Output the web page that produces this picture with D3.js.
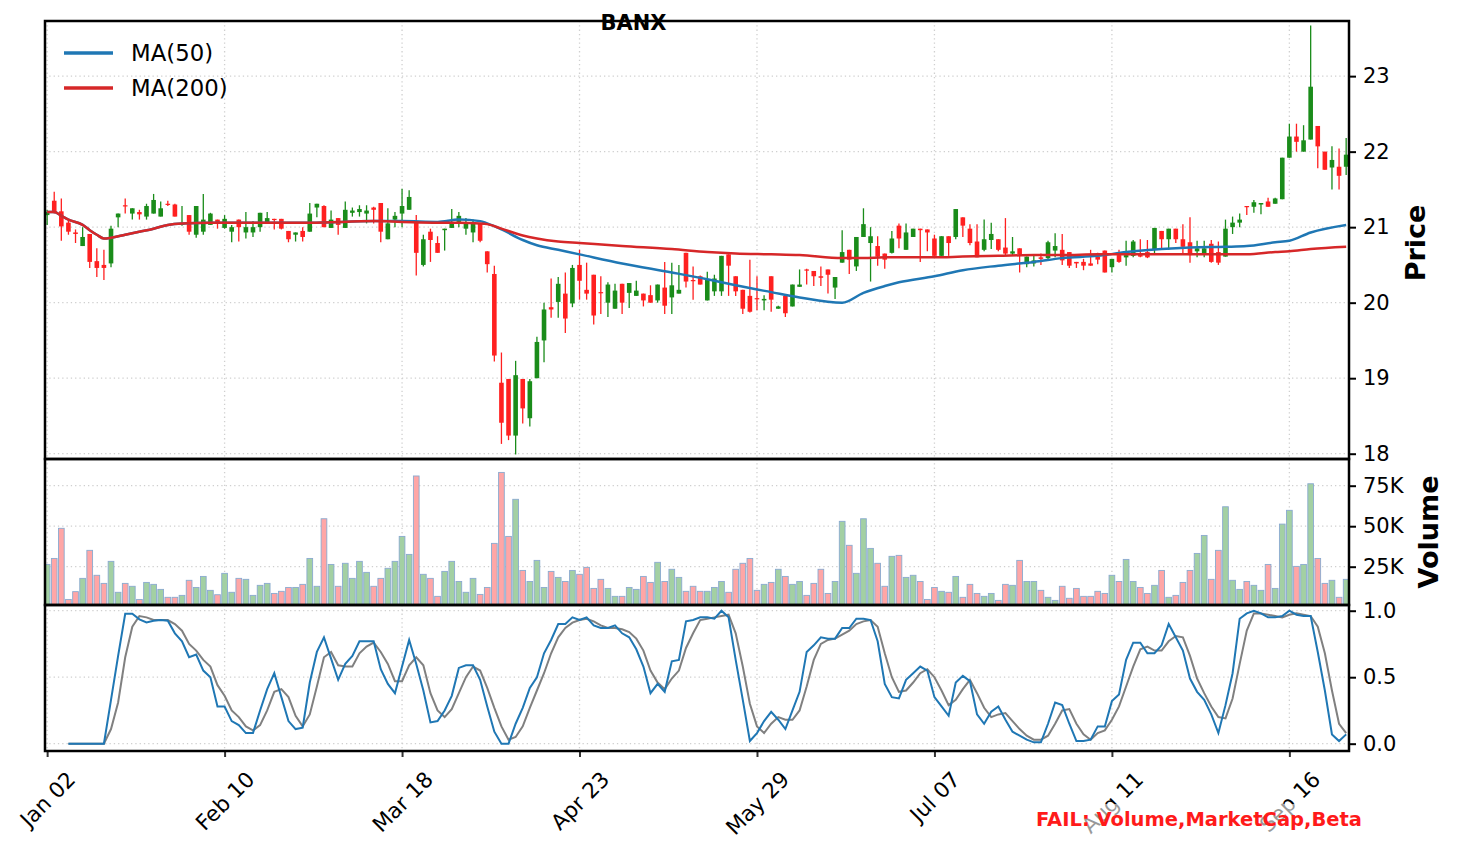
<!DOCTYPE html>
<html>
<head>
<meta charset="utf-8">
<script src="https://cdn.jsdelivr.net/npm/d3@7"></script>
<style>
body { margin: 0; background: #fff; }
text { font-family: "DejaVu Sans", sans-serif; }
</style>
</head>
<body>
<script>
var title = "BANX";

var opens = [21.16,21.35,21.21,21.06,20.93,20.75,20.91,20.55,20.50,20.52,
  21.13,21.29,21.18,21.20,21.14,21.18,21.14,21.31,21.30,21.03,
  21.16,20.90,20.94,21.03,21.10,20.99,20.94,21.10,20.93,20.93,
  21.00,21.05,21.11,21.11,20.95,20.90,20.95,20.94,21.26,21.28,
  20.99,21.12,20.99,21.19,21.20,21.18,21.26,21.32,20.84,21.10,
  21.18,21.23,21.08,20.50,20.94,20.79,20.96,20.99,21.07,20.98,
  20.93,21.05,20.68,20.38,18.94,18.99,18.24,18.99,18.47,19.00,
  19.50,19.94,20.01,20.12,19.99,20.50,20.17,20.37,20.14,20.00,
  19.92,20.25,20.13,20.09,20.12,20.10,20.03,20.20,20.07,20.12,
  20.66,20.30,20.35,20.03,20.15,20.15,20.64,20.35,20.17,20.09,
  20.06,20.03,20.35,19.92,20.09,19.95,20.21,20.44,20.42,20.35,
  20.44,20.20,20.53,20.70,20.48,20.87,20.79,20.75,20.65,20.66,
  21.02,20.70,20.87,20.98,20.97,20.85,20.62,20.88,20.87,21.13,
  20.98,20.81,20.70,20.83,20.84,20.73,20.65,20.72,20.51,20.52,
  20.60,20.59,20.69,20.70,20.67,20.54,20.54,20.52,20.61,20.69,
  20.47,20.63,20.60,20.62,20.63,20.67,20.70,20.95,20.84,20.98,
  20.84,20.80,20.68,20.65,20.78,20.67,20.61,21.00,21.06,21.28,
  21.27,21.30,21.34,21.31,21.37,21.92,22.20,22.00,22.16,22.34,
  22.00,21.79,21.80,21.80];

var highs = [21.23,21.47,21.38,21.09,20.97,21.00,20.91,20.72,20.70,21.02,
  21.18,21.38,21.25,21.23,21.31,21.44,21.34,21.35,21.31,21.28,
  21.16,21.28,21.44,21.19,21.10,21.16,21.03,21.10,21.20,21.08,
  21.19,21.20,21.11,21.11,20.95,20.93,21.00,21.32,21.31,21.29,
  21.22,21.12,21.34,21.26,21.29,21.29,21.27,21.32,21.25,21.20,
  21.51,21.49,21.16,20.90,20.98,20.88,20.98,21.24,21.20,21.12,
  21.10,21.05,20.68,20.49,19.34,18.99,19.23,18.99,18.99,19.55,
  20.00,20.32,20.34,20.40,20.50,20.70,20.53,20.37,20.35,20.27,
  20.25,20.25,20.26,20.29,20.12,20.23,20.24,20.54,20.53,20.50,
  20.66,20.48,20.36,20.41,20.37,20.62,20.64,20.35,20.17,20.57,
  20.35,20.10,20.35,19.96,20.09,20.24,20.44,20.45,20.42,20.48,
  20.44,20.34,20.96,20.70,20.87,21.25,21.00,20.88,20.65,20.95,
  21.05,21.05,20.98,20.98,20.97,20.90,20.88,20.88,21.24,21.13,
  21.04,21.04,21.10,21.06,20.84,21.12,20.87,20.72,20.61,20.63,
  20.65,20.82,20.92,20.91,20.67,20.54,20.58,20.70,20.66,20.69,
  20.58,20.70,20.82,20.83,20.84,20.83,20.99,20.95,20.98,20.98,
  21.04,21.13,20.82,20.82,20.83,20.81,21.10,21.14,21.18,21.28,
  21.36,21.32,21.39,21.39,21.92,22.37,22.37,22.35,23.67,22.34,
  22.00,22.07,22.04,22.18];

var lows = [21.03,21.18,20.82,20.90,20.79,20.75,20.46,20.34,20.30,20.47,
  21.00,21.18,21.10,21.10,21.10,21.18,21.14,21.28,21.14,21.02,
  20.90,20.86,20.90,21.03,20.98,20.98,20.80,20.81,20.85,20.87,
  20.94,21.05,20.97,20.97,20.80,20.81,20.81,20.94,21.13,21.00,
  20.99,20.90,20.99,21.14,21.14,21.05,21.05,20.80,20.84,21.00,
  21.00,21.23,20.36,20.48,20.54,20.66,20.69,20.99,21.00,20.90,
  20.80,20.80,20.40,19.22,18.13,18.18,17.99,18.40,18.36,19.00,
  19.21,19.80,19.80,19.60,19.94,20.04,20.04,19.71,19.85,19.81,
  19.92,19.85,19.93,20.09,19.95,20.00,20.00,19.85,19.85,20.12,
  20.20,20.04,20.24,20.03,20.09,20.09,20.09,20.09,19.85,19.87,
  19.90,19.90,19.88,19.92,19.81,19.95,20.21,20.24,20.22,20.22,
  20.12,20.05,20.53,20.38,20.42,20.87,20.28,20.49,20.45,20.65,
  20.72,20.70,20.87,20.54,20.68,20.62,20.62,20.62,20.84,20.87,
  20.76,20.60,20.68,20.71,20.68,20.63,20.63,20.40,20.47,20.48,
  20.50,20.58,20.60,20.50,20.46,20.46,20.43,20.49,20.51,20.40,
  20.40,20.53,20.49,20.60,20.60,20.59,20.65,20.70,20.70,20.79,
  20.63,20.53,20.60,20.60,20.53,20.50,20.61,20.91,21.00,21.16,
  21.19,21.17,21.27,21.31,21.37,21.92,22.00,22.00,22.16,21.78,
  21.76,21.50,21.50,21.69];

var closes = [21.20,21.20,21.01,20.94,20.91,20.87,20.54,20.46,20.46,20.98,
  21.18,21.28,21.25,21.17,21.28,21.36,21.25,21.30,21.14,21.05,
  20.94,21.28,21.10,21.18,21.05,21.11,21.00,21.00,21.00,21.00,
  21.19,21.12,21.10,20.98,20.84,20.93,20.87,21.18,21.31,21.00,
  21.10,21.03,21.23,21.22,21.24,21.22,21.23,20.94,21.05,21.15,
  21.28,21.40,20.66,20.84,20.83,20.66,20.98,21.05,21.15,21.05,
  21.05,20.82,20.51,19.30,18.41,18.24,19.04,18.60,18.96,19.48,
  19.91,19.91,20.25,19.79,20.46,20.29,20.12,19.83,20.13,20.24,
  20.16,20.00,20.26,20.16,20.03,20.00,20.24,19.96,20.23,20.17,
  20.28,20.29,20.24,20.31,20.32,20.62,20.49,20.15,19.92,19.88,
  20.05,20.05,20.04,19.95,19.86,20.24,20.24,20.43,20.35,20.33,
  20.37,20.34,20.67,20.57,20.87,21.04,20.88,20.61,20.57,20.85,
  20.85,20.93,20.98,20.96,20.93,20.62,20.88,20.79,21.24,21.02,
  20.79,20.60,20.84,20.91,20.70,20.65,20.68,20.64,20.61,20.56,
  20.58,20.80,20.75,20.56,20.49,20.52,20.49,20.49,20.57,20.40,
  20.58,20.54,20.63,20.81,20.61,20.60,20.99,20.84,20.98,20.84,
  20.74,20.63,20.72,20.72,20.54,20.53,20.98,21.06,21.10,21.27,
  21.33,21.32,21.27,21.38,21.92,22.20,22.13,22.15,22.86,22.07,
  21.76,21.89,21.68,21.96];

var volumes = [26400,30100,48700,4800,9600,17800,35100,19700,14700,28300,
  9200,14700,12900,4800,15300,14100,11000,6100,6100,7300,
  16600,12200,19000,10400,7700,20900,9200,17800,17200,7300,
  13500,14700,8500,9800,12200,12200,14100,30100,12900,54600,
  26400,12900,27100,17800,28300,21500,12900,17800,24000,28300,
  43700,32600,81000,20300,17800,6700,22100,28300,15900,9200,
  17800,7900,12200,39400,83200,43700,66600,22700,15900,28900,
  12200,22100,18400,15900,22700,20300,24600,11600,17200,11600,
  6700,6700,12200,11000,19000,15300,27700,15900,23400,18400,
  9800,12900,9800,9800,12200,15900,9200,23400,27100,30100,
  10400,14100,15300,23400,19000,14100,15900,7300,14700,23400,
  8500,15900,53000,38200,20900,54600,36300,27100,12900,31400,
  32000,18400,19700,15900,4800,12200,9800,9200,19000,6100,
  14100,8500,6700,8500,4200,14100,13500,28900,15900,15900,
  10400,6100,4200,12900,5500,11600,6700,6700,9800,8500,
  19700,15900,29500,15900,12200,8500,13500,22700,6100,7300,
  15300,22700,33200,44300,17200,35100,62000,16600,11000,15900,
  13500,10400,26400,11600,51300,59800,25200,26400,76200,30100,
  14700,16600,6100,17200];

var stochK = [null,null,null,0,0,0,0,0,0,0.33,
  0.66,0.977,0.977,0.935,0.912,0.925,0.93,0.925,0.83,0.77,
  0.65,0.67,0.55,0.5,0.28,0.28,0.17,0.14,0.08,0.08,
  0.25,0.41,0.53,0.35,0.17,0.11,0.12,0.46,0.69,0.8,
  0.64,0.48,0.6,0.66,0.77,0.77,0.77,0.56,0.45,0.38,
  0.58,0.78,0.6,0.4,0.16,0.17,0.25,0.36,0.57,0.59,
  0.59,0.48,0.28,0.09,0,0,0.15,0.27,0.42,0.5,
  0.68,0.78,0.9,0.9,0.95,0.93,0.95,0.89,0.87,0.87,
  0.89,0.83,0.8,0.71,0.58,0.38,0.45,0.39,0.62,0.63,
  0.92,0.93,0.95,0.95,0.94,1.0,0.95,0.63,0.33,0.02,
  0.08,0.17,0.24,0.18,0.11,0.25,0.39,0.69,0.74,0.8,
  0.79,0.79,0.87,0.87,0.94,0.94,0.93,0.77,0.45,0.35,
  0.34,0.48,0.53,0.58,0.55,0.35,0.28,0.21,0.46,0.51,
  0.47,0.22,0.15,0.24,0.28,0.18,0.09,0.06,0.03,0.01,
  0.01,0.15,0.31,0.29,0.15,0.02,0.02,0.03,0.13,0.13,
  0.32,0.37,0.63,0.76,0.76,0.68,0.68,0.74,0.9,0.8,
  0.7,0.49,0.39,0.33,0.22,0.08,0.29,0.53,0.94,0.98,
  1.0,0.98,0.95,0.95,0.96,1.0,0.97,0.96,0.96,0.69,
  0.4,0.07,0.02,0.07];

var stochD = [null,null,null,0,0,0,0,0,0,0.11,
  0.31,0.65,0.88,0.96,0.95,0.93,0.93,0.93,0.9,0.85,
  0.75,0.7,0.63,0.58,0.44,0.36,0.25,0.2,0.13,0.1,
  0.14,0.25,0.39,0.41,0.35,0.21,0.13,0.22,0.43,0.65,
  0.69,0.59,0.58,0.58,0.68,0.73,0.76,0.69,0.6,0.47,
  0.47,0.59,0.65,0.59,0.38,0.25,0.2,0.26,0.38,0.5,
  0.58,0.55,0.42,0.27,0.13,0.03,0.05,0.13,0.27,0.4,
  0.53,0.68,0.8,0.87,0.91,0.93,0.94,0.92,0.89,0.87,
  0.87,0.86,0.84,0.79,0.7,0.55,0.46,0.41,0.49,0.55,
  0.72,0.83,0.93,0.94,0.95,0.96,0.97,0.83,0.58,0.3,
  0.13,0.08,0.15,0.2,0.18,0.18,0.25,0.43,0.63,0.75,
  0.78,0.79,0.82,0.85,0.9,0.92,0.93,0.88,0.68,0.5,
  0.39,0.4,0.46,0.53,0.56,0.5,0.4,0.29,0.33,0.41,
  0.48,0.38,0.27,0.2,0.22,0.23,0.17,0.11,0.06,0.03,
  0.03,0.06,0.15,0.25,0.26,0.15,0.07,0.03,0.08,0.1,
  0.18,0.28,0.43,0.58,0.71,0.73,0.7,0.7,0.77,0.81,
  0.8,0.66,0.49,0.38,0.28,0.2,0.19,0.34,0.6,0.85,
  0.98,0.98,0.97,0.96,0.95,0.97,0.98,0.97,0.96,0.88,
  0.68,0.4,0.15,0.08];

var maIdx = [0,1,2,3,5,6,7,8,9,11,13,15,17,19,23,27,37,46,50,55,
  58,61,62,64,67,69,72,75,81,88,93,97,102,106,112,115,118,120,125,129,
  134,139,143,148,152,157,161,166,169,173,175,178,183];
var ma50 = [21.2,21.2,21.15,21.1,21.03,20.96,20.9,20.85,20.86,20.9,20.94,20.98,21.03,21.05,21.06,21.06,21.06,21.08,21.08,21.07,
  21.1,21.08,21.05,20.97,20.83,20.76,20.7,20.64,20.52,20.4,20.31,20.23,20.14,20.07,20.0,20.13,20.22,20.27,20.35,20.43,
  20.49,20.54,20.59,20.62,20.67,20.71,20.73,20.74,20.75,20.8,20.82,20.93,21.03];
var ma200 = [21.2,21.2,21.15,21.1,21.03,20.96,20.9,20.85,20.86,20.9,20.94,20.98,21.03,21.05,21.06,21.06,21.06,21.08,21.07,21.06,
  21.06,21.05,21.04,20.98,20.89,20.85,20.81,20.79,20.75,20.71,20.67,20.65,20.64,20.63,20.59,20.59,20.6,20.6,20.6,20.61,
  20.62,20.63,20.63,20.64,20.64,20.64,20.64,20.64,20.64,20.67,20.68,20.71,20.74];

var tickIdx = [0,25,50,75,100,125,150,175];
var tickLabels = ["Jan 02","Feb 10","Mar 18","Apr 23","May 29","Jul 07","Aug 11","Sep 16"];
var priceTicks = [18,19,20,21,22,23];
var volTicks = [25000,50000,75000];
var stochTicks = [0,0.5,1.0];
var failText = "FAIL: Volume,MarketCap,Beta";

var svg = d3.select("body").append("svg")
    .attr("width", 1457)
    .attr("height", 855);

var left = 45, right = 1349;
var x = d3.scaleLinear().domain([-0.3, 183.4]).range([left, right]);
var yPrice = d3.scaleLinear().domain([17.93, 23.73]).range([459, 21]);
var yVol = d3.scaleLinear().domain([0, 75000]).range([607.2, 485.7]);
var yStoch = d3.scaleLinear().domain([-0.055, 1.043]).range([751, 605]);

var panels = [
    {name: "p", top: 21, bottom: 459, y: yPrice, ticks: priceTicks, fmt: function(d) { return d; }},
    {name: "v", top: 459, bottom: 605, y: yVol, ticks: volTicks, fmt: function(d) { return (d / 1000) + "K"; }},
    {name: "s", top: 605, bottom: 751, y: yStoch, ticks: stochTicks, fmt: d3.format(".1f")}
];

var defs = svg.append("defs");
panels.forEach(function(p) {
    defs.append("clipPath").attr("id", "clip-" + p.name)
        .append("rect")
        .attr("x", left).attr("y", p.top)
        .attr("width", right - left).attr("height", p.bottom - p.top);
});

// grid
panels.forEach(function(p) {
    var g = svg.append("g").attr("class", "grid");
    g.selectAll("line.v").data(tickIdx).enter().append("line")
        .attr("x1", function(d) { return x(d); })
        .attr("x2", function(d) { return x(d); })
        .attr("y1", p.top).attr("y2", p.bottom);
    g.selectAll("line.h").data(p.ticks).enter().append("line")
        .attr("x1", left).attr("x2", right)
        .attr("y1", function(d) { return p.y(d); })
        .attr("y2", function(d) { return p.y(d); });
    g.selectAll("line")
        .attr("stroke", "#cfcfcf")
        .attr("stroke-width", 1.3)
        .attr("stroke-dasharray", "1.3,3");
});

var idx = d3.range(opens.length);
var isUp = function(i) { return closes[i] >= opens[i]; };
var candleUp = "#1a8c1a", candleDown = "#ff2020";

// candles
var cg = svg.append("g").attr("clip-path", "url(#clip-p)");
cg.selectAll("line.wick").data(idx).enter().append("line")
    .attr("x1", function(i) { return x(i); })
    .attr("x2", function(i) { return x(i); })
    .attr("y1", function(i) { return yPrice(highs[i]); })
    .attr("y2", function(i) { return yPrice(lows[i]); })
    .attr("stroke", function(i) { return isUp(i) ? candleUp : candleDown; })
    .attr("stroke-width", 1.3);
cg.selectAll("rect.body").data(idx).enter().append("rect")
    .attr("x", function(i) { return x(i) - 2.3; })
    .attr("width", 4.6)
    .attr("y", function(i) { return yPrice(Math.max(opens[i], closes[i])); })
    .attr("height", function(i) {
        return Math.max(1.2, Math.abs(yPrice(opens[i]) - yPrice(closes[i])));
    })
    .attr("fill", function(i) { return isUp(i) ? candleUp : candleDown; });

// moving averages
var maLine = function(vals) {
    return d3.line()
        .x(function(d, k) { return x(maIdx[k]); })
        .y(function(d) { return yPrice(d); })
        .curve(d3.curveMonotoneX)(vals);
};
cg.append("path").attr("d", maLine(ma50))
    .attr("fill", "none").attr("stroke", "#1f77b4").attr("stroke-width", 2.5);
cg.append("path").attr("d", maLine(ma200))
    .attr("fill", "none").attr("stroke", "#d62728").attr("stroke-width", 2.5);

// legend
var legend = [{label: "MA(50)", color: "#1f77b4", y: 53}, {label: "MA(200)", color: "#d62728", y: 88}];
var lg = svg.append("g");
lg.selectAll("line").data(legend).enter().append("line")
    .attr("x1", 64).attr("x2", 113)
    .attr("y1", function(d) { return d.y; })
    .attr("y2", function(d) { return d.y; })
    .attr("stroke", function(d) { return d.color; })
    .attr("stroke-width", 3.3);
lg.selectAll("text").data(legend).enter().append("text")
    .attr("x", 131)
    .attr("y", function(d) { return d.y + 8; })
    .attr("font-size", "22.8px")
    .text(function(d) { return d.label; });

// volume
svg.append("g").attr("clip-path", "url(#clip-v)")
    .selectAll("rect").data(idx).enter().append("rect")
    .attr("x", function(i) { return x(i) - 2.85; })
    .attr("width", 5.7)
    .attr("y", function(i) { return yVol(volumes[i]); })
    .attr("height", function(i) { return yVol(0) - yVol(volumes[i]); })
    .attr("fill", function(i) { return isUp(i) ? "#a3d0a3" : "#ffa6a6"; })
    .attr("stroke", "#8aaad0")
    .attr("stroke-width", 0.9);

// stochastic
var sg = svg.append("g").attr("clip-path", "url(#clip-s)");
var stochLine = d3.line()
    .defined(function(d) { return d != null; })
    .x(function(d, i) { return x(i); })
    .y(function(d) { return yStoch(d); });
sg.append("path").attr("d", stochLine(stochD))
    .attr("fill", "none").attr("stroke", "#808080").attr("stroke-width", 2);
sg.append("path").attr("d", stochLine(stochK))
    .attr("fill", "none").attr("stroke", "#1f77b4").attr("stroke-width", 2);

// right axes
panels.forEach(function(p) {
    var ax = svg.append("g")
        .attr("transform", "translate(" + right + ",0)")
        .call(d3.axisRight(p.y).tickValues(p.ticks).tickFormat(p.fmt).tickSize(7).tickPadding(7));
    ax.select(".domain").remove();
    ax.selectAll(".tick line").attr("stroke", "#000").attr("stroke-width", 2);
    ax.selectAll(".tick text")
        .attr("font-family", "DejaVu Sans")
        .attr("font-size", "21px")
        .attr("fill", "#000");
});

// bottom axis
var xa = svg.append("g")
    .attr("transform", "translate(0,751)")
    .call(d3.axisBottom(x).tickValues(tickIdx)
        .tickFormat(function(d, i) { return tickLabels[i]; })
        .tickSize(6));
xa.select(".domain").remove();
xa.selectAll(".tick line").attr("stroke", "#333").attr("stroke-width", 2);
xa.selectAll(".tick text")
    .attr("font-family", "DejaVu Sans")
    .attr("font-size", "21.5px")
    .attr("fill", "#000")
    .attr("text-anchor", "middle")
    .attr("y", 0)
    .attr("dy", "0.35em")
    .attr("transform", function() {
        var w = this.getComputedTextLength();
        var cy = 17 + (w + 21) / (2 * Math.SQRT2);
        return "translate(0," + cy + ") rotate(-45)";
    });

// frames
panels.forEach(function(p) {
    svg.append("rect")
        .attr("x", left).attr("y", p.top)
        .attr("width", right - left).attr("height", p.bottom - p.top)
        .attr("fill", "none")
        .attr("stroke", "#000")
        .attr("stroke-width", 2.5);
});

svg.append("text")
    .attr("x", 633.5).attr("y", 30)
    .attr("text-anchor", "middle")
    .attr("font-weight", "bold")
    .attr("font-size", "21px")
    .text(title);

svg.append("text")
    .attr("transform", "translate(1425,243) rotate(-90)")
    .attr("text-anchor", "middle")
    .attr("font-weight", "bold")
    .attr("font-size", "27px")
    .text("Price");

svg.append("text")
    .attr("transform", "translate(1438,532) rotate(-90)")
    .attr("text-anchor", "middle")
    .attr("font-weight", "bold")
    .attr("font-size", "27px")
    .text("Volume");

svg.append("rect")
    .attr("x", 1032).attr("y", 804)
    .attr("width", 336).attr("height", 34)
    .attr("fill", "#fff")
    .attr("fill-opacity", 0.6);
svg.append("text")
    .attr("x", 1362).attr("y", 826)
    .attr("text-anchor", "end")
    .attr("font-weight", "bold")
    .attr("font-size", "19.5px")
    .attr("fill", "#ff1a1a")
    .text(failText);
</script>
</body>
</html>
